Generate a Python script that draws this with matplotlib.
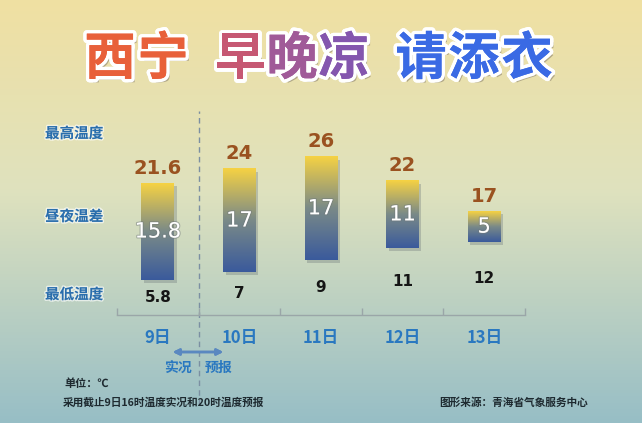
import numpy as np
import matplotlib.pyplot as plt
import matplotlib.patheffects as pe
from matplotlib.colors import LinearSegmentedColormap
from matplotlib.patches import Rectangle

plt.rcParams['font.family'] = ['Noto Sans CJK SC', 'DejaVu Sans']

days = ['9日', '10日', '11日', '12日', '13日']
high = [21.6, 24, 26, 22, 17]
low = [5.8, 7, 9, 11, 12]
diff = ['15.8', '17', '17', '11', '5']
high_lbl = ['21.6', '24', '26', '22', '17']
low_lbl = ['5.8', '7', '9', '11', '12']
row_labels = ['最高温度', '昼夜温差', '最低温度']

W, H = 642, 423
fig = plt.figure(figsize=(W / 100, H / 100), dpi=100)

# background gradient
bg = fig.add_axes([0, 0, 1, 1])
bg_cmap = LinearSegmentedColormap.from_list(
    'bg', [(0, '#f0e0a2'), (0.45, '#dfe2be'), (1, '#97bec6')])
grad = np.linspace(0, 1, 256).reshape(-1, 1)
bg.imshow(grad, aspect='auto', cmap=bg_cmap, extent=[0, 1, 0, 1])
bg.set_xlim(0, 1)
bg.set_ylim(0, 1)
bg.axis('off')

# main axes: 0 deg sits on the baseline
ax = fig.add_axes([117 / W, 1 - 315 / H, 408 / W, 200 / H])
ax.patch.set_alpha(0)
for s in ['top', 'right', 'left']:
    ax.spines[s].set_visible(False)
ax.spines['bottom'].set_color('#9aa6a8')
ax.spines['bottom'].set_linewidth(1.0)
ax.set_yticks([])
ax.set_xticks(range(len(days)))
ax.set_xticklabels(days, color='#2a78c0', fontsize=12, fontweight='bold')
ax.tick_params(axis='x', length=0, pad=10)
ax.set_xticks(np.arange(-0.5, 5, 1), minor=True)
ax.tick_params(axis='x', which='minor', direction='in', length=5,
               color='#9aa6a8', width=1.0)

bar_cmap = LinearSegmentedColormap.from_list(
    'bar', [(0, '#3a5a9c'), (0.5, '#7a8a88'), (1, '#f6d243')])
bar_w = 0.4
for i in range(len(days)):
    x0 = i - bar_w / 2
    # shadow
    ax.add_patch(Rectangle((x0 + 0.03, low[i] - 0.5), bar_w, high[i] - low[i],
                           color='#606a70', alpha=0.3, lw=0, zorder=1))
    ax.imshow(grad, aspect='auto', cmap=bar_cmap, origin='lower',
              extent=[x0, x0 + bar_w, low[i], high[i]], zorder=2)
    ax.text(i, (high[i] + low[i]) / 2, diff[i], ha='center', va='center',
            color='white', fontsize=15, family='DejaVu Sans', zorder=3,
            path_effects=[pe.withStroke(linewidth=1.5, foreground='#70787a80')])
    ax.annotate(high_lbl[i], (i, high[i]), xytext=(0, 4),
                textcoords='offset points', ha='center', va='bottom',
                color='#9a5220', fontsize=14, fontweight='bold',
                family='DejaVu Sans', zorder=3)
    ax.text(i, low[i] / 2, low_lbl[i], ha='center', va='center',
            color='#151515', fontsize=11, fontweight='bold',
            family='DejaVu Sans', zorder=3)
ax.set_xlim(-0.5, 4.5)
ax.set_ylim(0, 32.8)

# dashed split between observation and forecast
ax.axvline(0.5, ymin=-0.45, ymax=1.02, color='#7b8fa2', lw=1.0,
           ls=(0, (4, 3)), clip_on=False, zorder=0)

# row labels on the left
glow = [pe.withStroke(linewidth=2, foreground='#ffffffa0')]
for lbl, py in zip(row_labels, [133, 216, 294]):
    fig.text(45 / W, 1 - py / H, lbl, ha='left', va='center', color='#2a6eac',
             fontsize=10.5, fontweight='bold', path_effects=glow)

# title
shadow = [pe.withStroke(linewidth=5, foreground='white'),
          pe.SimplePatchShadow(offset=(2.5, -2.5), shadow_rgbFace='#7a7060', alpha=0.5),
          pe.withStroke(linewidth=5, foreground='white'), pe.Normal()]
title_chars = ['西', '宁', '早', '晚', '凉', '请', '添', '衣']
title_cols = ['#e8603a', '#e8603a', '#c65873', '#a05a98', '#8456ae',
              '#3a6ae4', '#3a6ae4', '#3a6ae4']
title_x = [110, 163, 240, 292, 344, 421, 474, 527]
for ch, c, tx in zip(title_chars, title_cols, title_x):
    fig.text(tx / W, 1 - 59 / H, ch, ha='center', va='center', color=c,
             fontsize=37, fontweight='heavy', path_effects=shadow)

# observation / forecast arrow
fig.add_artist(plt.annotate('', xy=(226 / W, 1 - 352 / H), xytext=(170 / W, 1 - 352 / H),
                            xycoords='figure fraction',
                            arrowprops=dict(arrowstyle='<|-|>', color='#5a88c0',
                                            lw=1.8, mutation_scale=9)))
fig.text(178 / W, 1 - 368 / H, '实况', ha='center', va='center',
         color='#2a78c0', fontsize=10, fontweight='bold')
fig.text(219 / W, 1 - 368 / H, '预报', ha='center', va='center',
         color='#2a78c0', fontsize=10, fontweight='bold')

# footnotes
fig.text(64 / W, 1 - 383 / H, '单位：℃', ha='left', va='center',
         color='#1e2a30', fontsize=8, fontweight='bold')
fig.text(63 / W, 1 - 403 / H, '采用截止9日16时温度实况和20时温度预报', ha='left',
         va='center', color='#1e2a30', fontsize=7.7, fontweight='bold')
fig.text(588 / W, 1 - 403 / H, '图形来源：青海省气象服务中心', ha='right',
         va='center', color='#1e2a30', fontsize=7.7, fontweight='bold')

fig.savefig('out.png', dpi=100)
